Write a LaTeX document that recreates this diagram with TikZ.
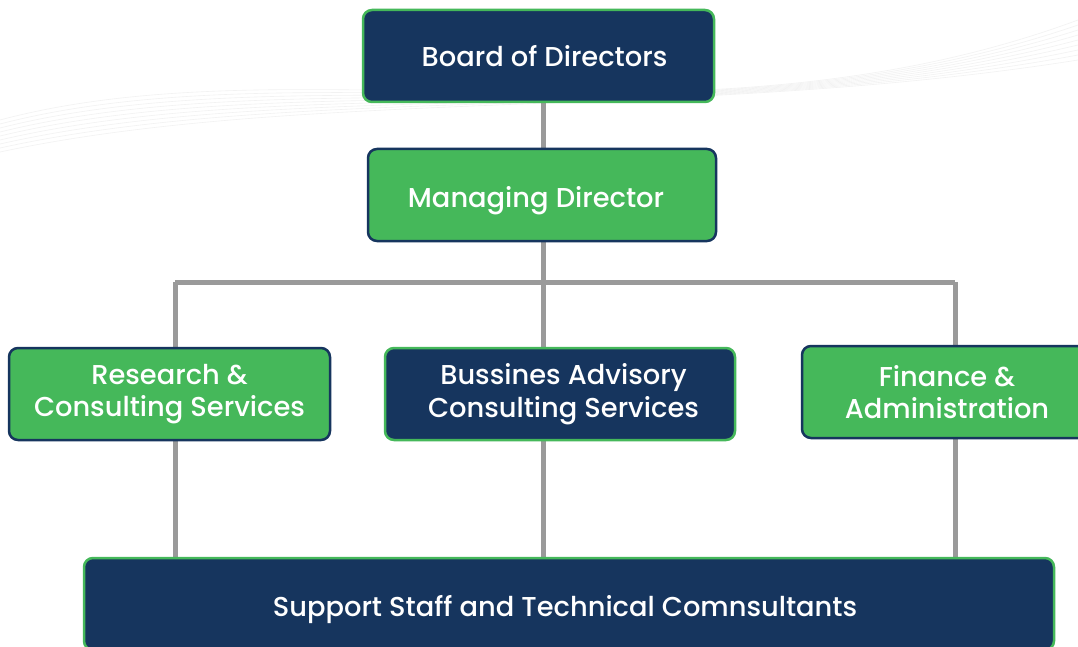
\documentclass[tikz,border=0pt]{standalone}
\usepackage{fontspec}
\setmainfont{Poppins}[UprightFont={* Medium}]
\definecolor{navy}{HTML}{16355E}
\definecolor{grn}{HTML}{45B85A}
\definecolor{conn}{HTML}{9A9A9A}
\pgfdeclarelayer{bg}
\pgfsetlayers{bg,main}
\begin{document}
\begin{tikzpicture}[x=1pt,y=-1pt,
  box/.style={rounded corners=9pt,line width=2.5pt,inner sep=0pt,align=center,
    text=white,font=\fontsize{27.3}{32.5}\selectfont},
  navybox/.style={box,fill=navy,draw=grn},
  greenbox/.style={box,fill=grn,draw=navy},
  link/.style={draw=conn,line width=5pt}]
\useasboundingbox (0,0) rectangle (1078,647);
\clip (0,0) rectangle (1078,647);
\node[navybox,minimum width=351pt,minimum height=92pt] (bod) at (538.5,56) {\hspace*{12pt}Board of Directors};
\node[greenbox,minimum width=348pt,minimum height=92pt] (md) at (542,195) {\rule{0pt}{32pt}Managing Director\hspace*{12pt}};
\node[greenbox,minimum width=321pt,minimum height=92pt] (rcs) at (169.5,394) {Research \&\\Consulting Services};
\node[navybox,minimum width=350pt,minimum height=92pt] (bacs) at (560,394) {\hspace*{7pt}Bussines Advisory\\\hspace*{7pt}Consulting Services};
\node[greenbox,minimum width=290pt,minimum height=92pt] (fa) at (947,392) {Finance \&\\Administration};
\node[navybox,minimum width=970pt,minimum height=92pt] (sst) at (569,604) {\rule{0pt}{32pt}Support Staff and Technical Comnsultants\hspace*{8pt}};
\coordinate (j) at (543,282);
\coordinate (jl) at (175,282);
\coordinate (jr) at (955,282);
\begin{pgfonlayer}{bg}
\fill[white] (0,0) rectangle (1078,647);
\foreach \i in {0,...,8}{
  \draw[gray!10,line width=0.6pt] (0,{120+4*\i}) .. controls (300,{40+6*\i}) and (700,{160-5*\i}) .. (1078,{20+5*\i});
}
\draw[link] (bod.south -| j) -- (md.north -| j);
\draw[link] (md.south -| j) -- (j);
\draw[link] (jl) -- (jr);
\draw[link] (jl) -- (rcs.north -| jl);
\draw[link] (j) -- (bacs.north -| j);
\draw[link] (jr) -- (fa.north -| jr);
\draw[link] (rcs.south -| jl) -- (sst.north -| jl);
\draw[link] (bacs.south -| j) -- (sst.north -| j);
\draw[link] (fa.south -| jr) -- (sst.north -| jr);
\end{pgfonlayer}
\end{tikzpicture}
\end{document}
